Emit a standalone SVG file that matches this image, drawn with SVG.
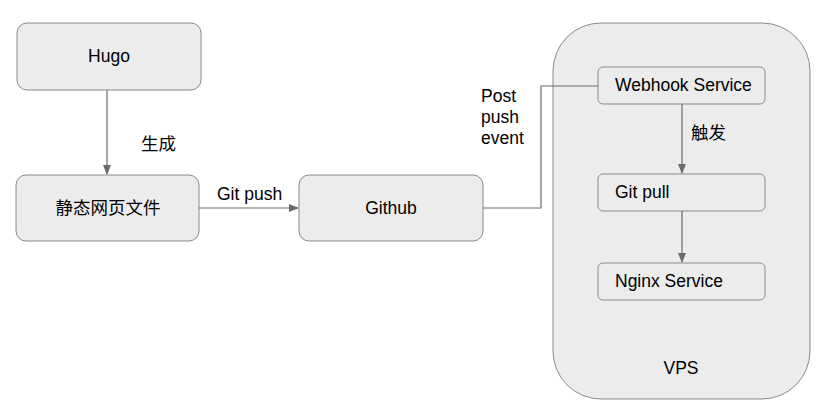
<svg xmlns="http://www.w3.org/2000/svg" width="831" height="417" viewBox="0 0 831 417">
<style>
.box{fill:#ececec;stroke:#8a8a8a;stroke-width:1}
.t{font-family:"Liberation Sans","Noto Sans CJK SC",Arial,sans-serif;font-size:17.5px;fill:#000}
.c{text-anchor:middle}
.edge{fill:none;stroke:#6b6b6b;stroke-width:1.2}
</style>
<defs>
<marker id="ah" markerWidth="10" markerHeight="8" refX="9" refY="4" orient="auto" markerUnits="userSpaceOnUse">
<path d="M0,0 L10,4 L0,8 Z" fill="#6b6b6b"/>
</marker>
</defs>
<rect width="831" height="417" fill="#fff"/>
<g id="vps">
<rect class="box" x="553" y="23" width="257" height="376" rx="48" ry="48"/>
<text class="t c" x="681" y="374">VPS</text>
</g>
<g id="hugo">
<rect class="box" x="17" y="23" width="184" height="67" rx="10"/>
<text class="t c" x="109" y="62">Hugo</text>
</g>
<g id="static">
<rect class="box" x="16" y="175" width="183" height="66" rx="10"/>
<text class="t c" x="108" y="214">静态网页文件</text>
</g>
<g id="github">
<rect class="box" x="299" y="175" width="184" height="66" rx="10"/>
<text class="t c" x="391" y="214">Github</text>
</g>
<g id="webhook">
<rect class="box" x="598" y="67" width="167" height="37" rx="5"/>
<text class="t" x="615" y="91">Webhook Service</text>
</g>
<g id="gitpull">
<rect class="box" x="598" y="174" width="167" height="37" rx="5"/>
<text class="t" x="615" y="198">Git pull</text>
</g>
<g id="nginx">
<rect class="box" x="598" y="263" width="167" height="37" rx="5"/>
<text class="t" x="615" y="287">Nginx Service</text>
</g>
<g id="connectors">
<path class="edge" d="M107,90 L107,174" marker-end="url(#ah)"/>
<text class="t" x="141" y="150">生成</text>
<path class="edge" d="M199,208 L298,208" marker-end="url(#ah)"/>
<text class="t" x="217" y="200">Git push</text>
<path class="edge" d="M483,208 L541,208 L541,86 L598,86"/>
<text class="t" x="481" y="102">Post</text>
<text class="t" x="481" y="123">push</text>
<text class="t" x="481" y="144">event</text>
<path class="edge" d="M682,104 L682,173" marker-end="url(#ah)"/>
<text class="t" x="691" y="139">触发</text>
<path class="edge" d="M682,211 L682,262" marker-end="url(#ah)"/>
</g>
</svg>
